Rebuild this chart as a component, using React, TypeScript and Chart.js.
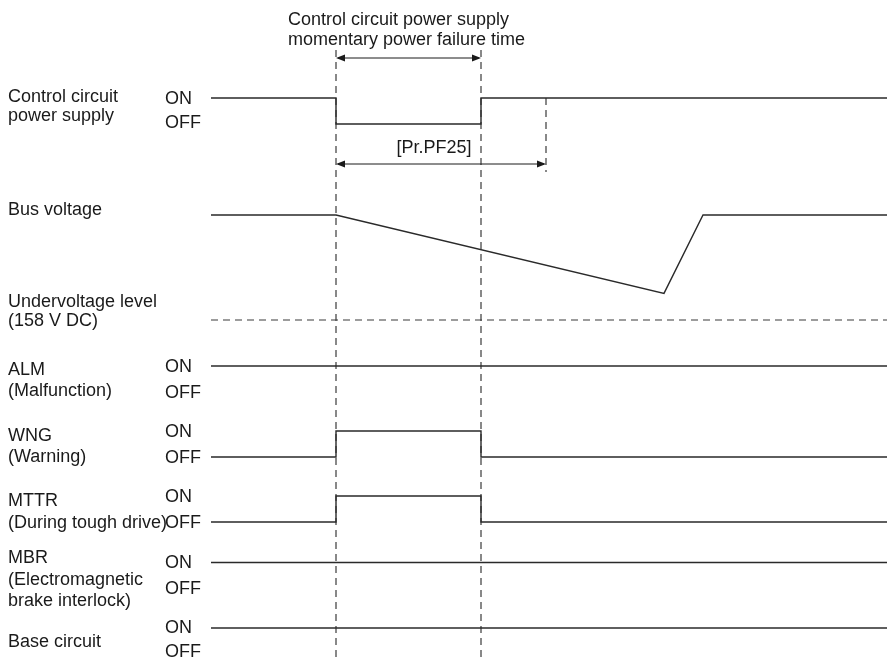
import React, { useEffect, useRef } from "react";
import { Chart, registerables } from "chart.js";

Chart.register(...registerables);

// ---- Data (time in arbitrary units, t=0 at start of the trace) ----
const eventTimes = [125, 270, 335]; // power failure, power restored, [Pr.PF25] elapsed
const traceEnd = 676;

const ctrlTimes = [0, 125, 125, 270, 270, 676];
const ctrlStates = [1, 1, 0, 0, 1, 1];

const busTimes = [0, 125, 453, 492, 676];
const busVolts = [280, 280, 189, 280, 280];
const undervoltageLevel = 158;

const almTimes = [0, 676];
const almStates = [1, 1];

const wngTimes = [0, 125, 125, 270, 270, 676];
const wngStates = [0, 0, 1, 1, 0, 0];

const mttrTimes = [0, 125, 125, 270, 270, 676];
const mttrStates = [0, 0, 1, 1, 0, 0];

const mbrTimes = [0, 676];
const mbrStates = [1, 1];

const baseTimes = [0, 676];
const baseStates = [1, 1];

// ---- Layout ----
const W = 887;
const H = 661;
const X0 = 211; // pixel of t=0
const SWING = 26;
const rowOn = { ctrl: 98, alm: 366, wng: 431, mttr: 496, mbr: 562.5, base: 628 };
const BUS_TOP_PX = 215;
const UNDER_PX = 320;
const FONT = '18px "Liberation Sans", Arial, sans-serif';
const INK = "#1a1a1a";
const LINE = "#2a2a2a";

const pxPerV = (UNDER_PX - BUS_TOP_PX) / (busVolts[0] - undervoltageLevel);
const vMax = busVolts[0] + BUS_TOP_PX / pxPerV;
const vMin = busVolts[0] - (H - BUS_TOP_PX) / pxPerV;

const digital = (times: number[], states: number[], on: number) =>
  times.map((t, i) => ({ x: t, y: on + (1 - states[i]) * SWING }));

const leftLabels: [string, number][] = [
  ["Control circuit", 97],
  ["power supply", 116],
  ["Bus voltage", 210],
  ["Undervoltage level", 302],
  ["(158 V DC)", 321],
  ["ALM", 370],
  ["(Malfunction)", 391],
  ["WNG", 436],
  ["(Warning)", 457],
  ["MTTR", 501],
  ["(During tough drive)", 523],
  ["MBR", 558],
  ["(Electromagnetic", 580],
  ["brake interlock)", 601],
  ["Base circuit", 642],
];

const stateLabels: [string, number][] = [
  ["ON", 99], ["OFF", 123],
  ["ON", 367], ["OFF", 393],
  ["ON", 432], ["OFF", 458],
  ["ON", 497], ["OFF", 523],
  ["ON", 563], ["OFF", 589],
  ["ON", 628], ["OFF", 652],
];

function drawArrow(ctx: CanvasRenderingContext2D, x1: number, x2: number, y: number) {
  const L = 9, Hh = 3.5;
  ctx.save();
  ctx.strokeStyle = INK;
  ctx.fillStyle = INK;
  ctx.lineWidth = 1;
  ctx.beginPath();
  ctx.moveTo(x1 + 2, y);
  ctx.lineTo(x2 - 2, y);
  ctx.stroke();
  ctx.beginPath();
  ctx.moveTo(x1, y);
  ctx.lineTo(x1 + L, y - Hh);
  ctx.lineTo(x1 + L, y + Hh);
  ctx.closePath();
  ctx.fill();
  ctx.beginPath();
  ctx.moveTo(x2, y);
  ctx.lineTo(x2 - L, y - Hh);
  ctx.lineTo(x2 - L, y + Hh);
  ctx.closePath();
  ctx.fill();
  ctx.restore();
}

const annotPlugin = {
  id: "annot",
  afterDatasetsDraw(chart: any) {
    const ctx: CanvasRenderingContext2D = chart.ctx;
    const xs = chart.scales.x;
    const ys = chart.scales.y;
    const px = (t: number) => xs.getPixelForValue(t);
    const py = (v: number) => ys.getPixelForValue(v);
    ctx.save();
    ctx.font = FONT;
    ctx.fillStyle = INK;
    ctx.textBaseline = "middle";
    ctx.textAlign = "left";
    leftLabels.forEach(([s, y]) => ctx.fillText(s, 8, py(y)));
    stateLabels.forEach(([s, y]) => ctx.fillText(s, 165, py(y)));
    ctx.fillText("Control circuit power supply", 288, py(20));
    ctx.fillText("momentary power failure time", 288, py(40));
    ctx.textAlign = "center";
    ctx.fillText("[Pr.PF25]", 434, py(148));
    ctx.restore();
    drawArrow(ctx, px(eventTimes[0]), px(eventTimes[1]), py(58));
    drawArrow(ctx, px(eventTimes[0]), px(eventTimes[2]), py(164));
  },
};

const lineDs = (data: any[], extra: any = {}) => ({
  data,
  borderColor: LINE,
  borderWidth: 1.4,
  pointRadius: 0,
  tension: 0,
  fill: false,
  ...extra,
});

export default function App() {
  const ref = useRef<HTMLCanvasElement>(null);
  useEffect(() => {
    if (!ref.current) return;
    const dash = { borderDash: [7, 5], borderWidth: 1.2, borderColor: "#3a3a3a" };
    const chart = new Chart(ref.current, {
      type: "line",
      data: {
        datasets: [
          lineDs(digital(ctrlTimes, ctrlStates, rowOn.ctrl)),
          lineDs(busTimes.map((t, i) => ({ x: t, y: busVolts[i] })), { yAxisID: "yV" }),
          lineDs([{ x: 0, y: undervoltageLevel }, { x: traceEnd, y: undervoltageLevel }], { yAxisID: "yV", ...dash }),
          lineDs(digital(almTimes, almStates, rowOn.alm)),
          lineDs(digital(wngTimes, wngStates, rowOn.wng)),
          lineDs(digital(mttrTimes, mttrStates, rowOn.mttr)),
          lineDs(digital(mbrTimes, mbrStates, rowOn.mbr)),
          lineDs(digital(baseTimes, baseStates, rowOn.base)),
          lineDs([{ x: eventTimes[0], y: 50 }, { x: eventTimes[0], y: H }], dash),
          lineDs([{ x: eventTimes[1], y: 50 }, { x: eventTimes[1], y: H }], dash),
          lineDs([{ x: eventTimes[2], y: rowOn.ctrl }, { x: eventTimes[2], y: 172 }], dash),
        ],
      },
      options: {
        animation: false,
        responsive: false,
        events: [],
        layout: { padding: 0 },
        plugins: { legend: { display: false }, tooltip: { enabled: false } },
        scales: {
          x: { type: "linear", display: false, min: -X0, max: W - X0 },
          y: { type: "linear", display: false, min: 0, max: H, reverse: true },
          yV: { type: "linear", display: false, min: vMin, max: vMax },
        },
      },
      plugins: [annotPlugin],
    });
    return () => chart.destroy();
  }, []);
  return (
    <div style={{ position: "absolute", left: 0, top: 0, width: W, height: H, background: "#fff" }}>
      <canvas ref={ref} width={W} height={H} style={{ display: "block" }} />
    </div>
  );
}
